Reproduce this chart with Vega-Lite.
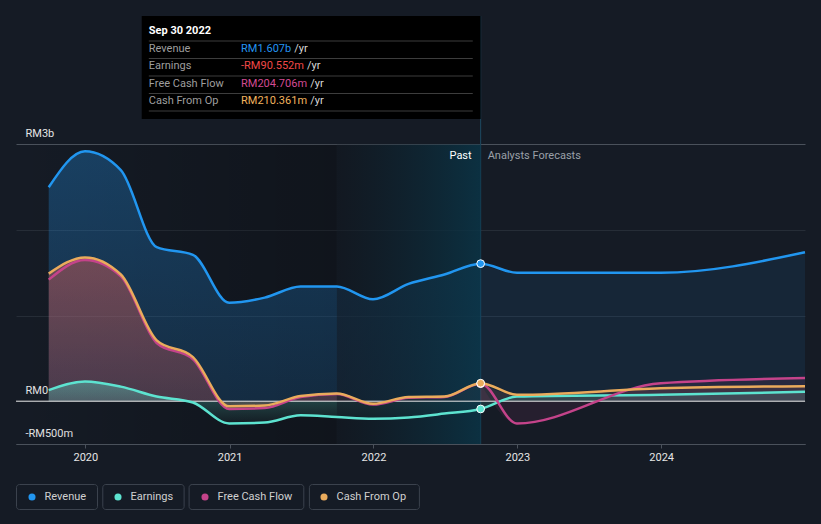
{
  "$schema": "https://vega.github.io/schema/vega-lite/v6.json",
  "width": 789,
  "height": 428,
  "autosize": "none",
  "padding": {"left": 16, "top": 16, "right": 16, "bottom": 80},
  "background": "#151b25",
  "config": {"view": {"stroke": null}, "font": "Roboto", "text": {"font": "Roboto"}},
  "resolve": {"scale": {"y": "independent", "color": "independent"}},
  "layer": [
    {
      "data": {
        "format": {"parse": {"date": "date"}},
        "values": [
          {"date": "2019-09-30", "series": "Revenue", "value": 2.50},
          {"date": "2019-12-31", "series": "Revenue", "value": 2.92},
          {"date": "2020-03-31", "series": "Revenue", "value": 2.70},
          {"date": "2020-06-30", "series": "Revenue", "value": 1.80},
          {"date": "2020-09-30", "series": "Revenue", "value": 1.71},
          {"date": "2020-12-31", "series": "Revenue", "value": 1.15},
          {"date": "2021-03-31", "series": "Revenue", "value": 1.21},
          {"date": "2021-06-30", "series": "Revenue", "value": 1.34},
          {"date": "2021-09-30", "series": "Revenue", "value": 1.34},
          {"date": "2021-12-31", "series": "Revenue", "value": 1.19},
          {"date": "2022-03-31", "series": "Revenue", "value": 1.37},
          {"date": "2022-06-30", "series": "Revenue", "value": 1.48},
          {"date": "2022-09-30", "series": "Revenue", "value": 1.607},
          {"date": "2022-12-31", "series": "Revenue", "value": 1.50},
          {"date": "2023-12-31", "series": "Revenue", "value": 1.50},
          {"date": "2024-12-31", "series": "Revenue", "value": 1.74},
          {"date": "2019-09-30", "series": "Earnings", "value": 0.13},
          {"date": "2019-12-31", "series": "Earnings", "value": 0.23},
          {"date": "2020-03-31", "series": "Earnings", "value": 0.17},
          {"date": "2020-06-30", "series": "Earnings", "value": 0.055},
          {"date": "2020-09-30", "series": "Earnings", "value": -0.015},
          {"date": "2020-12-31", "series": "Earnings", "value": -0.26},
          {"date": "2021-03-31", "series": "Earnings", "value": -0.25},
          {"date": "2021-06-30", "series": "Earnings", "value": -0.165},
          {"date": "2021-09-30", "series": "Earnings", "value": -0.185},
          {"date": "2021-12-31", "series": "Earnings", "value": -0.205},
          {"date": "2022-03-31", "series": "Earnings", "value": -0.19},
          {"date": "2022-06-30", "series": "Earnings", "value": -0.145},
          {"date": "2022-09-30", "series": "Earnings", "value": -0.0906},
          {"date": "2022-12-31", "series": "Earnings", "value": 0.055},
          {"date": "2023-12-31", "series": "Earnings", "value": 0.075},
          {"date": "2024-12-31", "series": "Earnings", "value": 0.11},
          {"date": "2019-09-30", "series": "Free Cash Flow", "value": 1.42},
          {"date": "2019-12-31", "series": "Free Cash Flow", "value": 1.65},
          {"date": "2020-03-31", "series": "Free Cash Flow", "value": 1.46},
          {"date": "2020-06-30", "series": "Free Cash Flow", "value": 0.68},
          {"date": "2020-09-30", "series": "Free Cash Flow", "value": 0.49},
          {"date": "2020-12-31", "series": "Free Cash Flow", "value": -0.09},
          {"date": "2021-03-31", "series": "Free Cash Flow", "value": -0.08},
          {"date": "2021-06-30", "series": "Free Cash Flow", "value": 0.05},
          {"date": "2021-09-30", "series": "Free Cash Flow", "value": 0.085},
          {"date": "2021-12-31", "series": "Free Cash Flow", "value": -0.04},
          {"date": "2022-03-31", "series": "Free Cash Flow", "value": 0.04},
          {"date": "2022-06-30", "series": "Free Cash Flow", "value": 0.05},
          {"date": "2022-09-30", "series": "Free Cash Flow", "value": 0.2047},
          {"date": "2022-12-31", "series": "Free Cash Flow", "value": -0.26},
          {"date": "2023-12-31", "series": "Free Cash Flow", "value": 0.21},
          {"date": "2024-12-31", "series": "Free Cash Flow", "value": 0.27},
          {"date": "2019-09-30", "series": "Cash From Op", "value": 1.49},
          {"date": "2019-12-31", "series": "Cash From Op", "value": 1.68},
          {"date": "2020-03-31", "series": "Cash From Op", "value": 1.48},
          {"date": "2020-06-30", "series": "Cash From Op", "value": 0.71},
          {"date": "2020-09-30", "series": "Cash From Op", "value": 0.515},
          {"date": "2020-12-31", "series": "Cash From Op", "value": -0.06},
          {"date": "2021-03-31", "series": "Cash From Op", "value": -0.05},
          {"date": "2021-06-30", "series": "Cash From Op", "value": 0.06},
          {"date": "2021-09-30", "series": "Cash From Op", "value": 0.09},
          {"date": "2021-12-31", "series": "Cash From Op", "value": -0.03},
          {"date": "2022-03-31", "series": "Cash From Op", "value": 0.05},
          {"date": "2022-06-30", "series": "Cash From Op", "value": 0.055},
          {"date": "2022-09-30", "series": "Cash From Op", "value": 0.2104},
          {"date": "2022-12-31", "series": "Cash From Op", "value": 0.075},
          {"date": "2023-12-31", "series": "Cash From Op", "value": 0.15},
          {"date": "2024-12-31", "series": "Cash From Op", "value": 0.175}
        ]
      },
      "layer": [
        {
          "data": {"values": [{}]},
          "mark": {"type": "rect", "fill": {"gradient": "linear", "x1": 0, "x2": 1, "y1": 0, "y2": 0, "stops": [{"offset": 0, "color": "rgba(0,0,0,0)"}, {"offset": 1, "color": "rgba(0,0,0,0.25)"}]}},
          "encoding": {
            "x": {"datum": {"year": 2019, "month": 7, "date": 9, "utc": true}, "type": "temporal",
                  "scale": {"type": "utc", "domain": [{"year": 2019, "month": 7, "date": 9, "utc": true}, {"year": 2024, "month": 12, "date": 31, "utc": true}], "nice": false},
                  "axis": {"format": "%Y", "tickCount": {"interval": "year", "step": 1}, "title": null, "grid": false, "domainColor": "#4a515b", "tickColor": "#4a515b", "tickSize": 4, "labelColor": "#e6e6e6", "labelFontSize": 11, "labelFont": "Roboto", "labelPadding": 3}},
            "x2": {"datum": {"year": 2021, "month": 9, "date": 30, "utc": true}},
            "y": {"datum": 3, "type": "quantitative",
                  "scale": {"domain": [-0.5, 4.5], "zero": false, "nice": false},
                  "axis": {"values": [-0.5, 0, 1, 2, 3], "labelExpr": "datum.value == 3 ? 'RM3b' : datum.value == 0 ? 'RM0' : datum.value == -0.5 ? '-RM500m' : ''", "title": null, "domain": false, "ticks": false, "labelAlign": "left", "labelPadding": -9, "labelBaseline": "alphabetic", "labelOffset": -8, "labelColor": "#e6e6e6", "labelFontSize": 11, "labelFont": "Roboto", "grid": true, "gridColor": {"condition": {"test": "datum.value == 3 || datum.value == -0.5", "value": "#4a515b"}, "value": "#262d37"}, "gridWidth": 1}},
            "y2": {"datum": -0.5}
          }
        },
        {
          "data": {"values": [{}]},
          "mark": {"type": "rule", "color": "#1d4a61", "strokeWidth": 1},
          "encoding": {"x": {"datum": {"year": 2022, "month": 9, "date": 30, "utc": true}, "type": "temporal"}}
        },
        {
          "transform": [{"filter": "datum.series == 'Revenue' && time(datum.date) <= utc(2022,8,30)"}],
          "mark": {"type": "area", "interpolate": "monotone", "fill": {"gradient": "linear", "x1": 0, "x2": 0, "y1": 0, "y2": 1, "stops": [{"offset": 0, "color": "rgba(35,150,240,0.30)"}, {"offset": 1, "color": "rgba(35,150,240,0.17)"}]}},
          "encoding": {"x": {"field": "date", "type": "temporal"}, "y": {"field": "value", "type": "quantitative"}, "y2": {"datum": 0}}
        },
        {
          "transform": [{"filter": "datum.series == 'Revenue' && time(datum.date) >= utc(2022,8,30)"}],
          "mark": {"type": "area", "interpolate": "monotone", "fill": "#2396f0", "fillOpacity": 0.09},
          "encoding": {"x": {"field": "date", "type": "temporal"}, "y": {"field": "value", "type": "quantitative"}, "y2": {"datum": 0}}
        },
        {
          "transform": [{"filter": "datum.series == 'Cash From Op' && time(datum.date) <= utc(2022,8,30)"}],
          "mark": {"type": "area", "interpolate": "monotone", "fill": {"gradient": "linear", "x1": 0, "x2": 0, "y1": 0, "y2": 1, "stops": [{"offset": 0, "color": "rgba(215,100,85,0.42)"}, {"offset": 1, "color": "rgba(215,100,85,0.18)"}]}},
          "encoding": {"x": {"field": "date", "type": "temporal"}, "y": {"field": "value", "type": "quantitative"}, "y2": {"datum": 0}}
        },
        {
          "transform": [{"filter": "datum.series == 'Free Cash Flow' && time(datum.date) <= utc(2022,8,30)"}],
          "mark": {"type": "area", "interpolate": "monotone", "fill": "#c8405f", "fillOpacity": 0.1},
          "encoding": {"x": {"field": "date", "type": "temporal"}, "y": {"field": "value", "type": "quantitative"}, "y2": {"datum": 0}}
        },
        {
          "transform": [{"filter": "datum.series == 'Earnings' && time(datum.date) <= utc(2022,8,30)"}],
          "mark": {"type": "area", "interpolate": "monotone", "fill": {"gradient": "linear", "x1": 0, "x2": 0, "y1": 0, "y2": 1, "stops": [{"offset": 0, "color": "rgba(94,227,207,0.38)"}, {"offset": 1, "color": "rgba(94,227,207,0.03)"}]}},
          "encoding": {"x": {"field": "date", "type": "temporal"}, "y": {"field": "value", "type": "quantitative"}, "y2": {"datum": 0}}
        },
        {
          "data": {"values": [{}]},
          "mark": {"type": "rect", "fill": {"gradient": "linear", "x1": 0, "x2": 1, "y1": 0, "y2": 0, "stops": [{"offset": 0, "color": "rgba(16,22,30,0.55)"}, {"offset": 1, "color": "rgba(10,52,70,0.85)"}]}},
          "encoding": {
            "x": {"datum": {"year": 2021, "month": 9, "date": 30, "utc": true}, "type": "temporal"},
            "x2": {"datum": {"year": 2022, "month": 9, "date": 30, "utc": true}},
            "y": {"datum": 3, "type": "quantitative"},
            "y2": {"datum": -0.5}
          }
        },
        {
          "transform": [{"filter": "datum.series == 'Cash From Op' && time(datum.date) >= utc(2022,8,30)"}],
          "mark": {"type": "area", "interpolate": "monotone", "fill": "#d7785a", "fillOpacity": 0.12},
          "encoding": {"x": {"field": "date", "type": "temporal"}, "y": {"field": "value", "type": "quantitative"}, "y2": {"datum": 0}}
        },
        {
          "transform": [{"filter": "datum.series == 'Free Cash Flow' && time(datum.date) >= utc(2022,8,30)"}],
          "mark": {"type": "area", "interpolate": "monotone", "fill": "#c8458a", "fillOpacity": 0.1},
          "encoding": {"x": {"field": "date", "type": "temporal"}, "y": {"field": "value", "type": "quantitative"}, "y2": {"datum": 0}}
        },
        {
          "transform": [{"filter": "datum.series == 'Earnings' && time(datum.date) >= utc(2022,8,30)"}],
          "mark": {"type": "area", "interpolate": "monotone", "fill": "#5ee3cf", "fillOpacity": 0.13},
          "encoding": {"x": {"field": "date", "type": "temporal"}, "y": {"field": "value", "type": "quantitative"}, "y2": {"datum": 0}}
        },
        {
          "data": {"values": [{}]},
          "mark": {"type": "rule", "color": "#e6e6e6", "strokeWidth": 1},
          "encoding": {"y": {"datum": 0, "type": "quantitative"}}
        },
        {
          "mark": {"type": "line", "interpolate": "monotone", "strokeWidth": 2.5},
          "encoding": {
            "x": {"field": "date", "type": "temporal"},
            "y": {"field": "value", "type": "quantitative"},
            "stroke": {"field": "series", "type": "nominal", "legend": null,
                       "scale": {"domain": ["Revenue", "Earnings", "Free Cash Flow", "Cash From Op"], "range": ["#2196f0", "#5de3d0", "#c4438a", "#eaab5c"]}}
          }
        },
        {
          "transform": [{"filter": "false"}],
          "mark": {"type": "point", "filled": false, "color": "#3b424d", "strokeWidth": 1, "opacity": 1},
          "encoding": {
            "x": {"field": "date", "type": "temporal"},
            "y": {"field": "value", "type": "quantitative"},
            "shape": {"field": "series", "type": "nominal",
                      "scale": {"domain": ["Revenue box", "Earnings box", "Free Cash Flow box", "Cash From Op box"],
                                "range": ["M2,-12.5H77A3,3 0 0 1 80,-9.5V9.5A3,3 0 0 1 77,12.5H2A3,3 0 0 1 -1,9.5V-9.5A3,3 0 0 1 2,-12.5Z",
                                          "M2,-12.5H77.3A3,3 0 0 1 80.3,-9.5V9.5A3,3 0 0 1 77.3,12.5H2A3,3 0 0 1 -1,9.5V-9.5A3,3 0 0 1 2,-12.5Z",
                                          "M2,-12.5H110.7A3,3 0 0 1 113.7,-9.5V9.5A3,3 0 0 1 110.7,12.5H2A3,3 0 0 1 -1,9.5V-9.5A3,3 0 0 1 2,-12.5Z",
                                          "M2,-12.5H106A3,3 0 0 1 109,-9.5V9.5A3,3 0 0 1 106,12.5H2A3,3 0 0 1 -1,9.5V-9.5A3,3 0 0 1 2,-12.5Z"]},
                      "legend": {"orient": "none", "legendX": 0, "legendY": 479.5, "direction": "horizontal", "columns": 4, "columnPadding": 0.3, "title": null, "padding": 0,
                                 "symbolSize": 4, "symbolStrokeWidth": 1, "symbolStrokeColor": "#3b424d", "symbolFillColor": "transparent", "symbolOffset": 0,
                                 "labelExpr": "''", "labelFontSize": 1, "labelOffset": 0}}
          }
        },
        {
          "transform": [{"filter": "time(datum.date) == utc(2022,8,30)"}],
          "mark": {"type": "point", "filled": true, "size": 60, "stroke": "#ffffff", "strokeWidth": 1, "opacity": 1},
          "encoding": {
            "x": {"field": "date", "type": "temporal"},
            "y": {"field": "value", "type": "quantitative"},
            "color": {"field": "series", "type": "nominal",
                      "scale": {"domain": ["Revenue", "Earnings", "Free Cash Flow", "Cash From Op"], "range": ["#2196f0", "#5de3d0", "#c4438a", "#eaab5c"]},
                      "legend": {"orient": "none", "legendX": 0, "legendY": 468, "direction": "horizontal", "columns": 4, "columnPadding": 15, "title": null, "padding": 0,
                                 "symbolType": "circle", "symbolSize": 50, "symbolStrokeWidth": 0, "symbolOffset": 10.5, "labelOffset": 7,
                                 "labelFont": "Roboto", "labelFontSize": 11, "labelColor": "#d0d0d0", "clipHeight": 26}}
          }
        },
        {
          "data": {"values": [{}]},
          "mark": {"type": "text", "text": "Past", "align": "right", "dx": -9, "baseline": "middle", "color": "#ffffff", "fontSize": 11},
          "encoding": {"x": {"datum": {"year": 2022, "month": 9, "date": 30, "utc": true}, "type": "temporal"}, "y": {"datum": 2.864, "type": "quantitative"}}
        },
        {
          "data": {"values": [{}]},
          "mark": {"type": "text", "text": "Analysts Forecasts", "align": "left", "dx": 7, "baseline": "middle", "color": "#9aa0a8", "fontSize": 11},
          "encoding": {"x": {"datum": {"year": 2022, "month": 9, "date": 30, "utc": true}, "type": "temporal"}, "y": {"datum": 2.864, "type": "quantitative"}}
        },
        {
          "data": {"values": [{}]},
          "mark": {"type": "rect", "fill": "#000000"},
          "encoding": {
            "x": {"datum": {"year": 2020, "month": 5, "date": 23, "utc": true}, "type": "temporal"},
            "x2": {"datum": {"year": 2022, "month": 9, "date": 30, "utc": true}},
            "y": {"datum": 4.5, "type": "quantitative"},
            "y2": {"datum": 3.297}
          }
        }
      ]
    },
    {
      "data": {"values": [
        {"metric": "Revenue", "value": "RM1.607b"},
        {"metric": "Earnings", "value": "-RM90.552m"},
        {"metric": "Free Cash Flow", "value": "RM204.706m"},
        {"metric": "Cash From Op", "value": "RM210.361m"}
      ]},
      "layer": [
        {
          "data": {"values": [{}]},
          "mark": {"type": "rule", "color": "#3d3d3d", "strokeWidth": 1, "yOffset": 10},
          "encoding": {
            "x": {"datum": {"year": 2020, "month": 6, "date": 10, "utc": true}, "type": "temporal"},
            "x2": {"datum": {"year": 2022, "month": 9, "date": 10, "utc": true}},
            "y": {"datum": "Sep 30 2022", "type": "nominal", "axis": null,
                  "scale": {"type": "point", "domain": ["Sep 30 2022", "Revenue", "Earnings", "Free Cash Flow", "Cash From Op"], "range": [15, 85], "padding": 0}}
          }
        },
        {
          "mark": {"type": "rule", "color": "#3d3d3d", "strokeWidth": 1, "yOffset": 10},
          "encoding": {
            "x": {"datum": {"year": 2020, "month": 6, "date": 10, "utc": true}, "type": "temporal"},
            "x2": {"datum": {"year": 2022, "month": 9, "date": 10, "utc": true}},
            "y": {"field": "metric", "type": "nominal", "axis": null}
          }
        },
        {
          "data": {"values": [{}]},
          "mark": {"type": "text", "text": "Sep 30 2022", "align": "left", "baseline": "middle", "color": "#ffffff", "fontSize": 11, "fontWeight": "bold"},
          "encoding": {
            "x": {"datum": {"year": 2020, "month": 6, "date": 10, "utc": true}, "type": "temporal"},
            "y": {"datum": "Sep 30 2022", "type": "nominal"}
          }
        },
        {
          "mark": {"type": "text", "align": "left", "baseline": "middle", "color": "#9e9e9e", "fontSize": 11},
          "encoding": {
            "x": {"datum": {"year": 2020, "month": 6, "date": 10, "utc": true}, "type": "temporal"},
            "y": {"field": "metric", "type": "nominal"},
            "text": {"field": "metric"}
          }
        },
        {
          "mark": {"type": "text", "align": "left", "baseline": "middle", "fontSize": 11},
          "encoding": {
            "x": {"datum": {"year": 2021, "month": 1, "date": 30, "utc": true}, "type": "temporal"},
            "y": {"field": "metric", "type": "nominal"},
            "text": {"field": "value"},
            "color": {"field": "metric", "type": "nominal", "legend": null,
                      "scale": {"domain": ["Revenue", "Earnings", "Free Cash Flow", "Cash From Op"], "range": ["#2394f0", "#f04848", "#d24b93", "#f2b35e"]}}
          }
        },
        {
          "mark": {"type": "text", "text": "/yr", "align": "left", "baseline": "middle", "color": "#d8d8d8", "fontSize": 11,
                   "dx": {"expr": "6.2*length(datum.value) + 3.7 + (indexof(datum.value,'m') >= 0 ? 3.4 : 0) - (indexof(datum.value,'-') >= 0 ? 3.2 : 0)"}},
          "encoding": {
            "x": {"datum": {"year": 2021, "month": 1, "date": 30, "utc": true}, "type": "temporal"},
            "y": {"field": "metric", "type": "nominal"}
          }
        }
      ]
    }
  ]
}
